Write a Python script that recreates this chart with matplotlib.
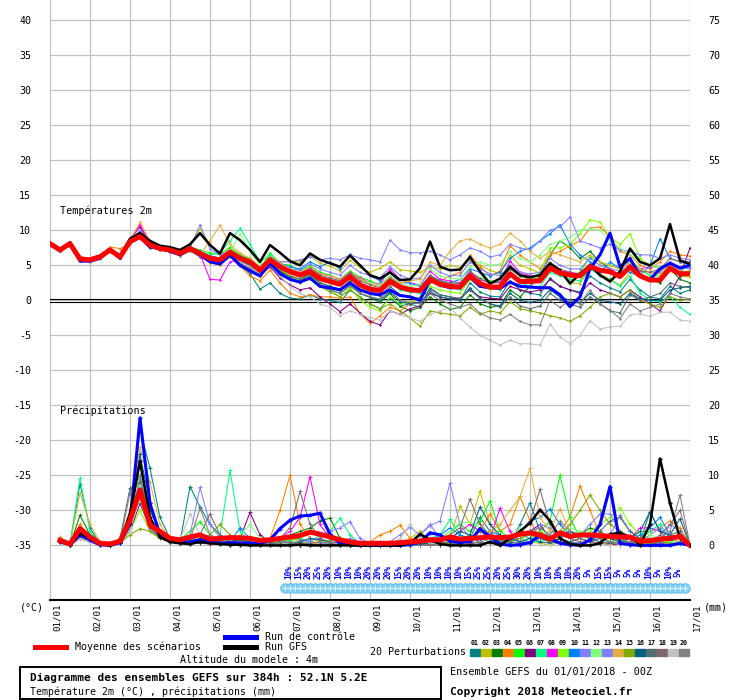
import matplotlib
matplotlib.use('Agg')
import matplotlib.pyplot as plt
import matplotlib.transforms as mtrans
from matplotlib.lines import Line2D
from matplotlib.patches import Rectangle
import numpy as np

plt.rcParams['font.family'] = ['DejaVu Sans Mono', 'DejaVu Sans']

# ---------------- data ----------------
day_labels = ['01/01', '02/01', '03/01', '04/01', '05/01', '06/01', '07/01', '08/01', '09/01',
              '10/01', '11/01', '12/01', '13/01', '14/01', '15/01', '16/01', '17/01']

temp_mean = [8.1, 7.2, 8.1, 5.9, 5.8, 6.2, 7.2, 6.2, 8.4, 9.1, 7.9, 7.4, 7.2,
             6.7, 7.4, 6.7, 6.0, 5.8, 6.9, 6.0, 5.5, 4.3, 5.8, 4.8, 4.1, 3.6,
             4.1, 3.1, 2.7, 2.3, 3.4, 2.2, 1.6, 1.4, 2.7, 1.9, 1.5, 1.4, 3.0,
             2.3, 2.0, 1.9, 3.5, 2.4, 1.9, 1.9, 3.8, 2.7, 2.7, 2.8, 4.6, 3.9,
             3.6, 3.5, 4.8, 4.3, 4.1, 3.4, 4.8, 3.5, 2.9, 2.9, 4.6, 3.8, 3.8]
temp_ctrl = [8.0, 7.1, 8.2, 5.6, 5.6, 6.0, 7.3, 6.0, 8.6, 9.0, 7.6, 7.5, 7.0,
             6.5, 7.3, 6.5, 5.5, 5.2, 6.5, 5.0, 4.2, 3.5, 5.3, 3.8, 3.0, 2.6,
             3.2, 2.0, 1.8, 1.5, 2.5, 1.5, 1.0, 0.8, 1.5, 0.7, 0.5, 0.0, 2.9,
             2.2, 1.8, 1.8, 3.3, 2.0, 1.8, 1.7, 2.6, 2.0, 1.9, 1.8, 1.8, 0.8,
             -0.9, 0.5, 4.5, 6.5, 9.6, 4.8, 6.0, 3.5, 3.0, 4.5, 5.3, 4.6, 5.0]
temp_gfs = [8.2, 7.3, 8.0, 5.8, 5.9, 6.4, 7.0, 6.3, 8.8, 9.6, 8.5, 7.8, 7.6,
            7.2, 8.0, 9.6, 7.9, 6.7, 9.6, 8.6, 7.2, 5.5, 7.9, 6.8, 5.6, 5.0,
            6.7, 5.8, 5.3, 4.8, 6.4, 5.0, 3.6, 3.1, 4.0, 2.9, 3.0, 4.6, 8.4,
            4.8, 4.3, 4.4, 6.2, 4.1, 2.4, 3.1, 4.8, 3.6, 3.3, 3.6, 5.3, 4.3,
            2.4, 3.8, 5.0, 3.6, 2.7, 4.1, 7.4, 5.5, 5.0, 6.0, 10.9, 5.7, 5.2]

t01 = [8.0, 7.0, 8.1, 5.6, 5.5, 6.0, 7.0, 6.0, 8.2, 9.0, 7.5, 7.2, 7.0,
       6.4, 7.2, 6.3, 5.8, 5.3, 6.5, 5.2, 3.8, 1.6, 2.5, 1.0, 0.3, 0.2,
       0.8, 0.2, 0.0, -0.3, 1.5, 0.5, -0.5, -1.2, 0.3, -0.8, -0.5, -1.0, 1.8,
       0.8, 0.5, 0.0, 2.5, 1.2, 0.6, 0.5, 2.8, 1.5, 1.0, 0.8, 3.2, 2.0,
       1.5, 1.2, 3.5, 2.5, 1.8, 1.2, 3.0, 1.5, 0.5, 0.2, 2.0, 1.0, 1.5]
t02 = [8.2, 7.3, 8.3, 6.1, 6.0, 6.5, 7.5, 6.4, 8.9, 9.8, 8.3, 7.6, 7.5,
       7.0, 7.9, 10.2, 8.0, 6.5, 7.5, 6.6, 5.8, 4.6, 6.3, 5.5, 5.6, 5.5,
       6.4, 5.3, 4.9, 4.2, 5.7, 4.7, 4.0, 4.6, 5.5, 4.4, 4.2, 4.0, 4.8,
       4.5, 5.0, 4.7, 5.8, 5.0, 4.3, 3.8, 6.5, 5.0, 4.5, 3.9, 5.5, 4.0,
       2.5, 2.4, 4.5, 3.8, 3.0, 2.2, 4.0, 3.3, 3.0, 2.8, 4.2, 3.5, 3.3]
t03 = [8.1, 7.2, 8.0, 5.8, 5.7, 6.2, 7.2, 6.3, 8.5, 9.5, 8.0, 7.5, 7.3,
       6.8, 7.5, 6.5, 5.9, 5.5, 6.7, 5.6, 5.1, 4.0, 5.5, 4.3, 3.5, 3.0,
       3.8, 2.5, 2.0, 1.5, 2.8, 1.0, 0.4, -0.3, 1.0, -0.8, -1.5, -1.0, 0.5,
       -0.5, -1.3, -1.0, 0.8, -0.5, -1.0, -0.8, 1.5, 0.5, 2.0, 3.5, 6.5, 8.5,
       7.5, 6.0, 7.0, 5.5, 4.5, 3.5, 4.8, 3.5, 3.0, 2.5, 4.5, 3.0, 2.5]
t04 = [8.0, 7.1, 8.2, 6.3, 5.9, 6.5, 7.6, 7.4, 8.0, 9.3, 8.3, 7.6, 7.2,
       6.6, 7.2, 6.5, 5.4, 5.0, 6.2, 4.9, 3.5, 2.8, 4.3, 2.5, 1.0, 0.5,
       0.8, 0.5, 0.5, 0.3, 0.5, -1.9, -3.3, -2.2, -1.0, -1.5, -0.5, 0.5, 2.5,
       2.8, 3.5, 4.0, 6.5, 4.8, 3.5, 4.2, 7.8, 6.5, 5.5, 4.5, 6.5, 7.0,
       7.8, 8.5, 10.3, 10.5, 9.0, 7.0, 6.5, 5.0, 4.5, 5.5, 7.0, 6.5, 6.3]
t05 = [8.1, 7.3, 8.2, 6.0, 5.9, 6.3, 7.4, 6.1, 8.3, 9.8, 8.1, 7.8, 7.4,
       6.9, 7.6, 7.2, 6.8, 6.5, 7.6, 6.4, 6.0, 4.5, 6.8, 5.2, 5.0, 4.2,
       5.0, 4.0, 3.6, 3.0, 4.2, 3.3, 2.8, 2.2, 3.5, 2.0, 1.8, 1.5, 3.4,
       2.7, 2.5, 2.4, 4.0, 3.2, 2.8, 2.6, 4.5, 3.5, 3.0, 3.2, 5.0, 4.0,
       3.5, 4.0, 6.2, 5.5, 5.0, 4.5, 5.8, 4.5, 3.5, 3.5, 5.2, 4.0, 4.2]
t06 = [8.2, 7.4, 8.4, 6.0, 5.6, 6.1, 7.3, 6.0, 8.8, 10.5, 8.0, 7.3, 7.0,
       6.5, 7.1, 6.2, 5.6, 5.4, 6.6, 5.3, 4.5, 3.5, 4.8, 3.2, 2.2, 1.5,
       1.8, 0.5, -0.5, -1.6, -0.5, -1.8, -3.0, -3.5, -1.5, -2.0, -1.2, -0.8, 1.0,
       0.5, 0.2, 0.3, 1.5, 0.5, 0.3, 0.2, 2.0, 1.5, 1.2, 1.5, 3.0, 2.0,
       1.5, 1.0, 2.5, 1.5, 1.0, 0.5, 1.5, 0.5, -0.5, -1.5, 1.0, 3.5, 7.5]
t07 = [8.0, 7.2, 8.0, 5.7, 5.6, 6.4, 7.4, 6.3, 8.6, 9.2, 7.8, 7.6, 7.4,
       6.9, 7.7, 7.0, 6.5, 6.8, 8.5, 10.3, 8.0, 5.5, 6.5, 5.0, 4.2, 3.5,
       4.2, 3.0, 2.5, 2.5, 3.6, 2.5, 1.8, 1.5, 2.5, 1.5, 1.2, 1.0, 2.8,
       2.0, 1.8, 1.6, 3.2, 2.2, 1.8, 1.5, 3.5, 2.5, 2.0, 2.0, 4.0, 3.5,
       3.0, 2.8, 4.5, 3.5, 3.0, 2.0, 3.5, 1.0, 0.0, -0.2, 0.5, -1.0, -2.0]
t08 = [8.1, 7.1, 8.0, 5.8, 5.7, 6.2, 7.0, 6.4, 8.5, 10.8, 8.2, 7.2, 7.1,
       6.6, 7.3, 6.6, 3.0, 2.9, 5.5, 5.8, 5.5, 4.2, 5.9, 5.0, 4.5, 4.0,
       4.5, 3.8, 3.5, 3.0, 3.8, 3.2, 2.5, 2.3, 4.5, 3.0, 2.5, 2.2, 4.2,
       3.0, 2.8, 2.5, 4.0, 3.0, 2.5, 2.6, 5.6, 4.0, 3.5, 3.4, 4.8, 4.2,
       4.0, 3.8, 5.2, 4.5, 4.0, 3.5, 5.0, 4.5, 4.8, 4.8, 5.0, 4.8, 4.8]
t09 = [8.1, 7.2, 8.1, 5.9, 5.8, 6.3, 7.3, 6.2, 8.4, 9.4, 8.0, 7.5, 7.3,
       6.8, 7.5, 6.8, 6.0, 5.8, 6.8, 5.8, 5.3, 4.0, 5.5, 4.5, 3.5, 2.8,
       3.5, 2.2, 1.5, 0.5, 1.8, 0.0, -1.0, -1.5, 0.5, -0.5, -0.2, 0.5, 2.0,
       1.5, 1.2, 1.0, 3.0, 2.0, 1.6, 2.0, 4.5, 3.5, 3.0, 4.0, 7.5, 7.5,
       8.0, 9.5, 11.5, 11.2, 9.0, 8.0, 9.5, 6.0, 5.0, 4.5, 5.5, 4.5, 5.0]
t10 = [8.2, 7.2, 8.1, 6.0, 5.9, 6.3, 7.4, 6.3, 8.5, 9.6, 8.1, 7.7, 7.5,
       6.9, 7.6, 6.9, 6.3, 6.0, 7.0, 6.3, 5.7, 4.6, 6.2, 5.3, 4.8, 4.5,
       5.5, 4.8, 5.5, 4.5, 6.6, 5.0, 3.5, 2.8, 4.0, 2.5, 2.5, 2.0, 3.5,
       2.8, 2.5, 3.0, 4.5, 4.0, 3.5, 4.0, 6.0, 7.0, 7.5, 8.5, 9.5, 10.8,
       8.0, 6.5, 5.5, 4.0, 5.5, 4.5, 4.0, 3.5, 5.0, 8.8, 6.0, 5.5, 5.0]
t11 = [8.3, 7.3, 8.2, 6.0, 5.6, 6.0, 7.3, 6.2, 8.6, 9.3, 7.8, 7.4, 7.2,
       6.6, 7.5, 10.8, 7.3, 6.5, 7.0, 6.0, 5.8, 4.8, 6.0, 5.5, 5.5, 5.8,
       6.2, 5.8, 6.0, 5.8, 6.5, 6.0, 5.8, 5.5, 8.6, 7.2, 6.8, 6.8, 7.0,
       6.5, 5.8, 6.5, 7.5, 7.0, 6.2, 6.5, 8.0, 7.5, 7.2, 8.5, 10.0, 10.5,
       11.9, 8.5, 8.0, 7.5, 8.0, 7.2, 7.0, 6.5, 6.5, 6.0, 6.5, 6.0, 5.8]
t12 = [8.0, 7.3, 8.1, 5.9, 5.7, 6.1, 7.1, 6.4, 8.3, 9.0, 7.9, 7.3, 7.1,
       6.6, 7.2, 6.7, 6.1, 5.9, 6.9, 9.5, 7.0, 5.0, 6.0, 4.9, 4.0, 3.8,
       4.5, 3.5, 3.0, 2.8, 4.0, 3.0, 2.5, 2.2, 3.5, 2.5, 2.0, 2.3, 4.5,
       3.5, 3.2, 3.0, 4.8, 5.5, 5.0, 5.2, 7.0, 6.0, 5.5, 6.5, 8.0, 8.5,
       9.0, 10.0, 10.2, 10.0, 8.5, 7.5, 6.5, 5.5, 5.0, 4.8, 5.0, 4.5, 4.5]
t13 = [8.1, 7.2, 8.2, 6.1, 5.8, 6.2, 7.2, 6.2, 8.5, 10.0, 8.1, 7.6, 7.4,
       7.0, 7.6, 7.0, 6.4, 6.0, 7.0, 6.2, 5.6, 4.5, 6.0, 5.0, 4.5, 4.3,
       5.2, 4.5, 4.0, 3.6, 5.0, 4.0, 3.5, 3.2, 4.8, 3.6, 3.0, 3.2, 5.0,
       4.0, 3.5, 3.6, 5.5, 4.5, 3.8, 3.5, 5.0, 4.0, 3.8, 4.0, 6.0, 5.0,
       4.5, 4.5, 6.0, 5.0, 4.5, 4.2, 5.5, 4.5, 4.0, 4.0, 5.5, 4.8, 4.5]
t14 = [8.1, 7.2, 8.1, 6.0, 5.8, 6.4, 7.3, 6.6, 8.6, 11.2, 8.5, 7.7, 7.3,
       6.8, 7.4, 6.5, 8.5, 10.7, 8.0, 6.8, 6.0, 4.8, 6.2, 5.3, 4.5, 4.0,
       4.8, 3.8, 3.5, 3.0, 4.0, 3.0, 2.3, 2.0, 3.3, 2.5, 2.8, 3.0, 5.5,
       5.0, 7.0, 8.5, 8.8, 8.0, 7.5, 8.0, 9.6, 8.5, 7.0, 6.0, 7.0, 6.5,
       6.0, 5.5, 6.5, 5.5, 5.0, 4.5, 5.5, 4.5, 4.0, 3.8, 5.0, 4.0, 4.2]
t15 = [8.0, 7.1, 8.0, 5.7, 5.5, 6.0, 7.0, 6.0, 8.2, 9.0, 7.6, 7.2, 7.0,
       6.4, 7.0, 6.3, 5.8, 5.6, 6.5, 5.8, 5.2, 4.0, 5.0, 4.0, 3.5, 3.0,
       3.2, 2.0, 1.2, 0.5, 1.5, 0.5, -0.5, -1.2, -0.5, -1.5, -2.5, -3.7, -1.5,
       -1.8, -2.0, -2.2, -1.0, -2.0, -1.5, -1.8, -0.2, -1.2, -1.5, -1.8, -2.2, -2.5,
       -3.0, -2.2, -1.0, 0.5, 1.0, 0.5, 1.5, 0.0, -0.5, -1.0, 0.5, 0.0, 0.2]
t16 = [8.0, 7.1, 8.0, 5.8, 5.7, 6.1, 7.1, 6.1, 8.3, 9.2, 7.8, 7.3, 7.0,
       6.5, 7.2, 6.4, 5.8, 5.6, 6.5, 5.6, 5.0, 3.8, 5.2, 4.0, 3.2, 2.6,
       3.0, 2.0, 1.5, 1.0, 2.2, 1.0, 0.5, 0.0, 1.2, -0.2, -0.5, -0.3, 1.2,
       0.5, 0.2, 0.0, 1.8, 0.2, -0.5, -0.8, 1.0, 0.0, -0.3, 0.0, 1.5, 0.5,
       0.0, -0.3, 1.0, 0.0, -0.2, -0.5, 1.0, 0.2, 0.0, 0.0, 1.5, 1.8, 2.0]
t17 = [8.1, 7.2, 8.1, 5.8, 5.7, 6.2, 7.1, 6.2, 8.4, 9.2, 7.8, 7.4, 7.1,
       6.6, 7.3, 6.5, 5.9, 5.6, 6.6, 5.7, 5.0, 3.9, 5.3, 4.2, 3.4, 3.0,
       3.6, 2.5, 2.0, 1.6, 2.6, 1.5, 0.9, 0.6, 2.0, 0.8, 0.5, 0.3, 1.5,
       0.8, 0.5, 0.3, 1.5, 0.3, -0.5, -1.0, 0.5, -0.8, -1.2, -0.8, 1.0, 0.0,
       -0.5, -1.0, 0.5, -0.5, -1.5, -1.8, 0.8, 0.0, 0.5, 1.0, 2.5, 2.0, 1.8]
t18 = [8.2, 7.3, 8.2, 6.0, 5.9, 6.3, 7.3, 6.3, 8.6, 9.8, 8.2, 7.6, 7.4,
       6.9, 7.6, 6.9, 6.3, 6.0, 7.1, 6.2, 5.6, 4.5, 6.0, 4.9, 4.3, 3.8,
       4.6, 3.6, 3.2, 2.8, 4.0, 2.8, 2.2, 1.8, 3.2, 2.2, 1.8, 1.6, 3.6,
       2.8, 2.5, 2.4, 4.2, 3.0, 2.5, 2.5, 4.5, 3.5, 3.0, 3.0, 5.0, 4.5,
       4.0, 3.5, 5.0, 4.5, 4.0, 3.5, 5.0, 4.2, 4.0, 4.5, 6.0, 5.5, 5.5]
t19 = [8.0, 7.0, 8.2, 5.8, 5.4, 5.9, 7.0, 6.0, 8.3, 9.5, 7.8, 7.2, 6.9,
       6.4, 7.1, 6.3, 5.7, 5.5, 6.4, 5.5, 4.8, 3.8, 5.0, 3.5, 2.0, 1.0,
       0.5, -0.5, -1.0, -2.2, -1.5, -2.0, -2.5, -2.8, -1.5, -2.0, -2.5, -3.0, -2.0,
       -1.5, -1.0, -2.5, -3.8, -5.0, -5.7, -6.4, -5.7, -6.2, -6.2, -6.4, -3.4, -5.2,
       -6.2, -5.0, -2.9, -4.1, -3.8, -3.7, -2.1, -1.9, -2.3, -1.7, -1.7, -2.8, -3.0]
t20 = [8.1, 7.1, 8.0, 5.8, 5.6, 6.0, 7.0, 6.1, 8.4, 9.2, 7.6, 7.2, 6.9,
       6.5, 7.4, 6.4, 5.5, 5.2, 6.2, 5.2, 4.6, 3.6, 5.0, 3.8, 3.0, 2.5,
       3.2, 2.0, 1.5, 1.0, 2.0, 1.0, 0.5, 0.2, 1.5, 0.0, -0.3, -0.5, 1.0,
       0.0, -0.5, -1.0, -0.5, -1.8, -2.5, -2.8, -2.0, -3.0, -3.5, -3.5, 0.0, -1.0,
       0.0, -0.5, 1.5, -0.5, -1.4, -2.6, -0.5, -1.5, -1.0, -0.5, 1.0, 0.5, 0.2]

prec_mean = [0.7, 0.2, 2.4, 1.2, 0.3, 0.2, 0.6, 3.6, 7.9, 2.9, 2.0, 1.0, 0.8, 1.2, 1.5, 0.9,
             1.0, 1.1, 1.1, 1.0, 0.7, 0.8, 1.0, 1.2, 1.4, 1.9, 1.6, 1.2, 0.8, 0.5, 0.3, 0.3,
             0.3, 0.3, 0.4, 0.5, 0.6, 0.8, 0.8, 1.2, 0.9, 1.0, 1.1, 1.2, 1.1, 1.2, 1.6, 1.8,
             1.5, 0.9, 1.8, 1.3, 1.5, 1.5, 1.4, 1.3, 1.2, 1.2, 0.6, 0.7, 0.9, 1.0, 1.3, 0.0]
prec_ctrl = [0.5, 0.1, 1.5, 0.8, 0.1, 0.0, 0.4, 3.0, 18.2, 6.0, 1.5, 0.6, 0.4, 0.5, 0.8, 0.6,
             0.3, 0.4, 0.3, 0.3, 0.2, 0.8, 2.4, 3.6, 4.2, 4.3, 4.6, 1.6, 0.3, 0.1, 0.0, 0.0,
             0.0, 0.0, 0.0, 0.1, 0.5, 1.8, 1.5, 0.6, 0.4, 0.6, 2.4, 1.2, 0.2, 0.0, 0.1, 0.4,
             1.5, 1.0, 0.3, 0.1, 0.0, 0.8, 3.0, 8.4, 0.3, 0.1, 0.0, 0.0, 0.0, 0.0, 0.3, 0.0]
prec_gfs = [0.6, 0.1, 1.8, 1.0, 0.2, 0.0, 0.5, 4.5, 12.0, 4.0, 1.2, 0.5, 0.3, 0.2, 0.5, 0.3,
            0.2, 0.1, 0.1, 0.0, 0.0, 0.0, 0.0, 0.0, 0.1, 0.0, 0.0, 0.0, 0.0, 0.0, 0.0, 0.0,
            0.0, 0.0, 0.0, 0.3, 1.6, 0.8, 0.2, 0.0, 0.0, 0.0, 0.0, 0.5, 0.0, 1.0, 2.0, 3.2,
            5.1, 3.5, 1.0, 0.2, 0.0, 0.0, 0.3, 1.6, 1.8, 1.2, 0.1, 3.0, 12.4, 6.0, 1.0, 0.0]

r01 = [0.8, 0.1, 8.8, 2.5, 0.2, 0.0, 0.5, 5.0, 16.6, 11.0, 4.0, 1.0, 0.5, 8.4, 5.5, 3.0,
       1.5, 0.5, 0.8, 0.3, 0.2, 0.5, 0.3, 0.2, 0.0, 0.5, 0.3, 0.2, 0.0, 0.0, 0.0, 0.0,
       0.0, 0.0, 0.2, 0.0, 0.0, 0.5, 0.3, 0.2, 0.0, 1.0, 4.0, 2.0, 0.5, 0.3, 3.0, 6.1,
       2.0, 0.5, 1.0, 0.5, 0.3, 0.5, 1.5, 1.0, 0.5, 0.3, 0.5, 4.8, 2.0, 0.5, 1.5, 0.0]
r02 = [0.6, 0.0, 2.0, 1.0, 0.2, 0.0, 0.8, 4.0, 9.0, 3.5, 1.5, 0.5, 0.3, 0.5, 0.8, 0.5,
       0.8, 0.5, 0.3, 0.2, 0.0, 0.0, 0.5, 1.0, 0.8, 0.5, 0.3, 0.2, 0.0, 0.0, 0.0, 0.0,
       0.0, 0.0, 0.0, 1.0, 2.0, 0.5, 0.2, 1.0, 5.6, 3.0, 7.7, 3.0, 1.0, 0.5, 0.3, 0.5,
       0.3, 0.0, 0.5, 0.3, 0.0, 0.5, 0.3, 0.2, 0.0, 0.5, 0.3, 0.2, 0.5, 1.0, 0.5, 0.0]
r03 = [0.7, 0.0, 4.3, 1.5, 0.3, 0.0, 0.5, 3.0, 12.0, 5.0, 2.0, 1.0, 0.5, 0.8, 0.5, 0.3,
       0.5, 0.3, 0.8, 0.5, 0.3, 0.5, 0.8, 1.5, 2.0, 2.5, 3.5, 3.9, 1.0, 0.3, 0.0, 0.0,
       0.0, 0.0, 0.0, 0.0, 0.3, 0.5, 0.2, 0.0, 0.5, 1.0, 0.5, 0.3, 0.5, 0.5, 1.5, 2.0,
       1.0, 0.5, 1.5, 2.0, 1.5, 2.5, 2.0, 1.0, 0.5, 0.5, 0.3, 0.5, 1.0, 0.5, 0.3, 0.0]
r04 = [1.2, 0.1, 3.0, 1.0, 0.2, 0.0, 0.6, 3.5, 8.0, 2.5, 1.5, 0.8, 0.5, 0.3, 0.8, 0.5,
       0.3, 0.2, 0.5, 0.3, 0.2, 1.0, 5.0, 10.0, 3.0, 1.0, 0.5, 0.3, 0.0, 0.0, 0.2, 0.5,
       1.5, 2.0, 2.9, 1.0, 0.3, 0.2, 0.0, 0.5, 0.3, 0.5, 2.0, 4.5, 2.0, 3.0, 7.0, 3.5,
       1.0, 0.5, 2.0, 4.0, 8.5, 5.0, 1.5, 0.5, 0.3, 0.5, 1.0, 2.0, 2.5, 3.5, 2.5, 0.0]
r05 = [0.5, 0.0, 1.5, 0.8, 0.2, 0.0, 0.5, 2.5, 10.0, 3.0, 1.5, 0.5, 0.8, 2.0, 3.4, 1.5,
       0.8, 0.5, 0.3, 0.2, 0.5, 0.3, 0.5, 0.8, 1.0, 0.5, 0.3, 0.8, 0.5, 0.2, 0.0, 0.0,
       0.0, 0.0, 0.0, 0.0, 0.0, 0.5, 1.0, 2.0, 3.0, 2.0, 3.5, 6.3, 2.0, 1.0, 1.5, 1.0,
       2.0, 3.5, 10.0, 4.0, 1.0, 0.5, 0.3, 0.2, 0.5, 1.0, 0.5, 0.3, 0.5, 0.3, 0.2, 0.0]
r06 = [0.8, 0.1, 1.0, 0.5, 0.0, 0.0, 0.3, 2.0, 6.0, 2.5, 1.0, 0.5, 0.3, 0.5, 0.3, 0.5,
       0.3, 0.5, 1.0, 4.7, 1.5, 0.5, 0.3, 0.2, 0.5, 0.3, 0.2, 0.0, 0.0, 0.0, 0.0, 0.0,
       0.0, 0.0, 0.0, 0.0, 0.2, 0.0, 0.0, 0.3, 0.5, 0.2, 0.5, 0.3, 0.5, 1.0, 1.5, 2.0,
       3.0, 1.0, 0.5, 0.3, 0.2, 0.5, 0.3, 0.2, 0.0, 0.3, 0.5, 0.3, 0.2, 0.5, 0.3, 0.0]
r07 = [0.9, 0.2, 9.6, 2.0, 0.3, 0.0, 0.5, 3.0, 9.0, 3.0, 1.5, 0.5, 0.5, 1.0, 0.5, 0.3,
       1.5, 10.7, 2.0, 0.5, 0.3, 0.2, 0.5, 0.3, 0.2, 0.5, 1.5, 2.0, 3.9, 1.5, 0.3, 0.0,
       0.0, 0.0, 0.0, 0.0, 0.5, 1.0, 1.5, 3.7, 1.5, 0.5, 0.3, 0.5, 0.3, 0.5, 1.0, 0.5,
       0.5, 1.0, 2.0, 1.5, 1.0, 0.5, 1.0, 0.5, 0.3, 0.5, 1.5, 2.0, 3.0, 1.0, 0.5, 0.0]
r08 = [0.6, 0.0, 1.0, 0.5, 0.0, 0.0, 0.4, 2.5, 7.0, 2.0, 1.0, 0.5, 0.3, 0.5, 0.3, 0.2,
       0.3, 0.5, 0.3, 0.2, 0.3, 0.5, 1.0, 2.0, 4.0, 9.8, 3.0, 1.0, 0.3, 0.0, 0.0, 0.0,
       0.0, 0.0, 0.0, 0.0, 0.0, 0.2, 0.5, 1.0, 2.0, 3.0, 2.0, 1.0, 5.3, 2.0, 0.5, 0.3,
       1.5, 0.5, 0.3, 0.5, 1.0, 0.5, 0.3, 0.2, 0.5, 1.0, 2.5, 2.5, 2.0, 1.5, 1.0, 0.0]
r09 = [0.5, 0.0, 1.2, 0.8, 0.2, 0.0, 0.3, 2.0, 5.0, 2.0, 1.0, 0.5, 0.3, 0.5, 1.0, 0.5,
       0.5, 0.3, 0.5, 0.3, 0.5, 0.3, 0.5, 1.0, 0.8, 0.5, 0.3, 0.2, 0.0, 0.0, 0.0, 0.0,
       0.0, 0.0, 0.0, 0.0, 0.0, 0.0, 0.3, 0.5, 1.0, 1.5, 1.0, 0.5, 0.5, 1.0, 0.5, 1.0,
       2.0, 1.5, 1.0, 0.5, 1.0, 2.0, 3.0, 4.0, 5.4, 3.0, 1.5, 1.0, 0.5, 0.5, 0.3, 0.0]
r10 = [0.6, 0.0, 1.5, 0.8, 0.2, 0.0, 0.4, 3.0, 8.0, 3.0, 1.5, 0.8, 0.5, 1.0, 0.8, 0.5,
       0.3, 0.5, 2.5, 1.0, 0.5, 0.3, 0.5, 0.5, 0.3, 0.5, 0.3, 0.2, 0.0, 0.0, 0.0, 0.0,
       0.0, 0.0, 0.0, 0.0, 0.0, 0.5, 1.5, 2.5, 1.5, 1.0, 0.5, 2.0, 1.5, 1.0, 2.0, 3.5,
       4.0, 5.2, 3.0, 1.5, 1.0, 0.5, 0.3, 0.5, 0.3, 0.5, 1.5, 2.5, 4.0, 1.5, 1.0, 0.0]
r11 = [0.7, 0.1, 2.0, 1.0, 0.3, 0.0, 0.6, 4.0, 9.5, 3.5, 1.5, 0.8, 0.5, 1.5, 8.3, 3.0,
       1.0, 0.5, 0.3, 0.2, 0.5, 0.3, 0.5, 0.3, 0.5, 0.8, 1.0, 2.0, 2.5, 3.4, 1.0, 0.3,
       0.2, 0.5, 1.5, 2.6, 1.5, 2.8, 3.5, 8.9, 3.0, 1.0, 0.5, 0.3, 0.5, 1.0, 0.5, 0.5,
       1.0, 2.0, 1.5, 1.0, 1.5, 3.0, 4.5, 4.5, 2.0, 1.0, 0.5, 1.5, 2.5, 1.0, 0.5, 0.0]
r12 = [0.5, 0.0, 1.5, 0.6, 0.2, 0.0, 0.5, 2.5, 6.5, 2.5, 1.2, 0.5, 0.3, 0.5, 0.8, 0.5,
       0.5, 0.8, 1.5, 3.0, 1.0, 0.5, 0.3, 0.5, 0.8, 0.5, 0.3, 0.3, 0.5, 0.2, 0.0, 0.0,
       0.0, 0.0, 0.0, 0.0, 0.3, 0.5, 1.0, 2.0, 3.3, 3.3, 2.5, 1.0, 0.5, 1.0, 2.5, 1.5,
       1.5, 2.0, 2.0, 2.5, 2.0, 1.5, 1.0, 0.5, 0.5, 1.0, 2.0, 1.5, 1.0, 0.5, 0.5, 0.0]
r13 = [0.6, 0.0, 1.8, 0.8, 0.2, 0.0, 0.4, 3.0, 7.5, 2.5, 1.0, 0.5, 0.3, 0.8, 0.5, 0.3,
       0.5, 0.3, 0.5, 0.3, 0.2, 0.5, 1.0, 1.5, 0.8, 0.5, 0.3, 0.2, 0.5, 1.0, 0.5, 0.2,
       0.5, 0.2, 0.0, 0.5, 1.5, 3.0, 1.0, 0.5, 0.3, 0.5, 1.0, 0.5, 0.3, 0.5, 1.5, 1.0,
       3.0, 2.5, 1.0, 0.5, 0.3, 0.5, 1.0, 1.5, 4.3, 2.0, 1.0, 0.5, 0.3, 3.0, 2.0, 0.0]
r14 = [0.8, 0.1, 7.5, 3.0, 0.5, 0.0, 0.8, 5.0, 14.0, 9.0, 3.0, 1.0, 0.5, 0.8, 0.5, 0.3,
       0.5, 0.3, 0.5, 0.3, 0.2, 0.3, 0.5, 1.0, 0.5, 0.3, 0.2, 0.0, 0.0, 0.0, 0.0, 0.0,
       0.0, 0.0, 0.0, 0.0, 0.0, 0.3, 0.5, 1.0, 0.5, 0.5, 1.0, 2.0, 3.0, 5.0, 7.0, 11.0,
       4.0, 2.0, 5.2, 2.0, 1.0, 0.5, 0.3, 0.2, 0.5, 1.0, 0.5, 0.3, 0.5, 1.0, 0.5, 0.0]
r15 = [0.5, 0.0, 1.0, 0.5, 0.2, 0.0, 0.3, 1.5, 2.4, 2.0, 1.0, 0.5, 0.3, 0.5, 1.0, 1.5,
       3.0, 1.5, 0.5, 0.3, 0.2, 0.3, 0.5, 0.3, 0.2, 0.0, 0.0, 0.0, 0.0, 0.0, 0.0, 0.0,
       0.0, 0.0, 0.0, 0.0, 0.0, 0.0, 0.0, 0.3, 0.5, 1.0, 2.0, 1.5, 0.8, 0.5, 1.0, 1.5,
       1.0, 0.5, 1.5, 3.0, 5.0, 7.2, 5.0, 3.0, 2.0, 1.0, 0.5, 0.3, 0.5, 0.3, 0.2, 0.0]
r16 = [0.7, 0.1, 2.0, 1.0, 0.3, 0.0, 0.5, 4.0, 13.0, 6.0, 2.0, 1.0, 0.5, 0.8, 0.5, 0.3,
       0.3, 0.5, 0.8, 0.5, 0.3, 0.2, 0.5, 0.3, 0.5, 1.0, 0.8, 0.5, 0.3, 0.0, 0.0, 0.0,
       0.0, 0.0, 0.0, 0.0, 0.2, 0.3, 0.5, 1.0, 2.0, 1.5, 5.5, 3.0, 1.5, 1.0, 0.5, 1.0,
       0.5, 0.3, 1.0, 2.0, 1.5, 1.0, 0.5, 0.3, 0.5, 1.0, 2.0, 4.8, 2.0, 1.5, 3.8, 0.0]
r17 = [0.8, 0.1, 1.5, 0.8, 0.2, 0.0, 1.0, 8.2, 9.0, 3.0, 1.5, 0.8, 0.5, 0.5, 0.3, 0.3,
       0.5, 0.3, 0.5, 0.3, 0.2, 0.5, 0.3, 0.5, 0.3, 0.2, 0.0, 0.0, 0.0, 0.0, 0.0, 0.0,
       0.0, 0.0, 0.0, 0.0, 0.0, 0.0, 0.3, 0.5, 0.3, 0.5, 0.3, 0.5, 1.0, 0.5, 0.3, 0.5,
       1.0, 0.5, 0.3, 0.5, 1.0, 0.5, 2.0, 3.5, 4.0, 2.0, 1.0, 0.5, 0.5, 1.5, 2.0, 0.0]
r18 = [0.6, 0.0, 1.2, 0.6, 0.2, 0.0, 0.5, 3.0, 8.0, 2.5, 1.2, 0.5, 0.3, 1.0, 1.5, 4.5,
       1.5, 0.5, 0.3, 0.2, 0.3, 0.5, 1.0, 2.5, 7.7, 3.0, 1.0, 0.5, 0.3, 0.0, 0.0, 0.0,
       0.0, 0.0, 0.0, 0.0, 0.0, 0.2, 0.5, 1.5, 2.5, 6.6, 3.0, 1.5, 0.5, 1.0, 2.0, 3.5,
       8.0, 3.0, 1.5, 1.0, 0.5, 0.5, 1.0, 0.5, 0.3, 0.5, 1.0, 0.5, 1.5, 3.0, 5.0, 0.0]
r19 = [0.5, 0.0, 1.0, 0.5, 0.2, 0.0, 0.3, 2.0, 8.5, 4.0, 1.5, 0.5, 0.8, 4.5, 1.5, 0.5,
       0.3, 0.5, 0.3, 0.2, 0.0, 0.0, 0.2, 0.3, 0.2, 0.0, 0.0, 0.0, 0.0, 0.0, 0.0, 0.0,
       0.0, 0.0, 1.0, 3.0, 1.0, 0.3, 0.2, 0.0, 0.0, 0.0, 0.0, 0.0, 0.0, 0.0, 0.0, 0.0,
       0.0, 0.0, 0.0, 0.0, 0.0, 0.0, 0.0, 0.0, 0.0, 0.0, 0.0, 0.0, 0.0, 0.0, 0.0, 0.0]
r20 = [0.7, 0.1, 1.5, 0.8, 0.3, 0.0, 0.5, 7.5, 10.0, 3.5, 1.5, 0.8, 0.5, 0.8, 5.3, 1.5,
       0.5, 0.3, 0.5, 0.3, 0.2, 0.3, 0.5, 0.3, 0.2, 0.3, 0.5, 0.3, 0.0, 0.0, 0.0, 0.0,
       0.0, 0.0, 0.0, 0.0, 0.0, 0.0, 0.0, 0.2, 0.5, 0.3, 0.5, 0.3, 0.5, 1.0, 1.5, 2.0,
       2.5, 1.5, 3.5, 2.0, 1.0, 0.5, 0.3, 0.5, 1.0, 0.5, 0.3, 0.5, 1.0, 2.0, 7.2, 0.0]

snow_pct = ['10%', '15%', '20%', '25%', '20%', '10%', '10%', '10%', '20%', '20%',
            '20%', '15%', '20%', '20%', '10%', '10%', '10%', '10%', '15%', '25%',
            '25%', '20%', '25%', '30%', '20%', '10%', '10%', '10%', '10%', '20%',
            '5%', '15%', '15%', '5%', '5%', '5%', '10%', '5%', '10%', '5%']

pert_labels = ['01', '02', '03', '04', '05', '06', '07', '08', '09', '10',
               '11', '12', '13', '14', '15', '16', '17', '18', '19', '20']

# ---------------- styles ----------------
PERT_COLORS = ['#008080', '#c0c000', '#008000', '#ff8000', '#00ff00', '#800080', '#00ff80',
               '#ff00ff', '#80ff00', '#0080ff', '#8080ff', '#80ff80', '#8080ff', '#e0b040',
               '#80a800', '#006080', '#507070', '#806870', '#c0c0c0', '#808080']
temp_perts = [t01, t02, t03, t04, t05, t06, t07, t08, t09, t10,
              t11, t12, t13, t14, t15, t16, t17, t18, t19, t20]
prec_perts = [r01, r02, r03, r04, r05, r06, r07, r08, r09, r10,
              r11, r12, r13, r14, r15, r16, r17, r18, r19, r20]

W, H = 740, 700
fig = plt.figure(figsize=(W / 100, H / 100), dpi=100)


def fx(x):
    return x / W


def fy(y):
    return 1 - y / H


hours_t = np.arange(len(temp_mean)) * 6
hours_p = (np.arange(len(prec_mean)) + 1) * 6

Y0, Y1 = -42.8, 42.9
ax = fig.add_axes([fx(50), fy(600), 640 / W, 600 / H])
ax.set_xlim(0, 384)
ax.set_ylim(Y0, Y1)
ax.set_xticks(np.arange(0, 385, 24))
ax.set_xticklabels(day_labels, rotation=90, fontsize=6.6, va='top', ha='center')
ax.set_yticks(np.arange(-35, 41, 5))
ax.set_yticklabels([str(v) for v in range(-35, 41, 5)], fontsize=7.2)
ax.tick_params(axis='y', length=0, pad=13.5)
ax.tick_params(axis='x', length=0, pad=2.2)
off = mtrans.ScaledTranslation(7 / 100, 0, fig.dpi_scale_trans)
for lab in ax.get_xticklabels():
    lab.set_transform(lab.get_transform() + off)
ax.grid(True, color='#c0c0c0', lw=0.9)
ax.set_axisbelow(True)
for s in ['top', 'left', 'right']:
    ax.spines[s].set_visible(False)
ax.spines['bottom'].set_linewidth(1.5)
ax.spines['bottom'].set_color('black')

ax.axhline(0.16, color='black', lw=0.8, zorder=2)
ax.axhline(-0.18, color='black', lw=0.8, zorder=2)

for vals, c in zip(temp_perts, PERT_COLORS):
    ax.plot(hours_t, vals, color=c, lw=0.75, marker='o', ms=1.8, mew=0, zorder=3)
ax.plot(hours_t, temp_ctrl, color='#0000ff', lw=2.2, zorder=4)
ax.plot(hours_t, temp_gfs, color='black', lw=1.8, zorder=4)
ax.plot(hours_t, temp_mean, color='#ff0000', lw=3.6, zorder=5)

ax.text(6, 12.8, 'Températures 2m', fontsize=7.3, va='center', ha='left')
ax.text(6, -15.8, 'Précipitations', fontsize=7.3, va='center', ha='left')

# snow band
snow_h = np.arange(141, 382, 3)
ax.scatter(snow_h, np.full(len(snow_h), -41.1), s=50, color='#80d0f6', edgecolors='#50b0e8',
           linewidths=0.4, clip_on=False, zorder=6)
ax.scatter(snow_h, np.full(len(snow_h), -41.1), s=14, marker='+', color='#d6f2ff',
           linewidths=0.8, clip_on=False, zorder=7)
for k, lab in enumerate(snow_pct):
    ax.text(143 + 6 * k, -38.8, lab, rotation=90, fontsize=5.6, color='#0000ff',
            fontweight='bold', ha='center', va='center', zorder=8)

# precipitation axis
ax2 = ax.twinx()
ax2.set_ylim(Y0 + 35, Y1 + 35)
ax2.set_yticks(np.arange(0, 76, 5))
ax2.set_yticklabels([str(v) for v in range(0, 76, 5)], fontsize=7.2)
ax2.tick_params(axis='y', length=0, pad=13)
for s in ['top', 'left', 'right', 'bottom']:
    ax2.spines[s].set_visible(False)
for vals, c in zip(prec_perts, PERT_COLORS):
    ax2.plot(hours_p, vals, color=c, lw=0.75, marker='+', ms=3, mew=0.7, zorder=3)
ax2.plot(hours_p, prec_ctrl, color='#0000ff', lw=2.2, marker='+', ms=3, zorder=4)
ax2.plot(hours_p, prec_gfs, color='black', lw=1.8, marker='+', ms=3, zorder=4)
ax2.plot(hours_p, prec_mean, color='#ff0000', lw=3.6, zorder=5)

fig.text(fx(32), fy(607), '(°C)', fontsize=7.2, ha='center', va='center')
fig.text(fx(716), fy(607), '(mm)', fontsize=7.2, ha='center', va='center')

# legend
fig.add_artist(Line2D([fx(35), fx(66)], [fy(647), fy(647)], color='#ff0000', lw=3.6,
                      transform=fig.transFigure))
fig.text(fx(75), fy(647), 'Moyenne des scénarios', fontsize=7.2, va='center')
fig.add_artist(Line2D([fx(225), fx(256)], [fy(637), fy(637)], color='#0000ff', lw=3.6,
                      transform=fig.transFigure))
fig.text(fx(265), fy(637), 'Run de contrôle', fontsize=7.2, va='center')
fig.add_artist(Line2D([fx(225), fx(256)], [fy(647), fy(647)], color='black', lw=3.6,
                      transform=fig.transFigure))
fig.text(fx(265), fy(647), 'Run GFS', fontsize=7.2, va='center')
fig.text(fx(249), fy(660), 'Altitude du modele : 4m', fontsize=7.2, va='center', ha='center')

fig.text(fx(466), fy(652), '20 Perturbations', fontsize=7.2, va='center', ha='right')
for k, (lab, c) in enumerate(zip(pert_labels, PERT_COLORS)):
    fig.add_artist(Rectangle((fx(470 + 11 * k), fy(656)), 10 / W, 7 / H, color=c,
                             transform=fig.transFigure))
    fig.text(fx(475 + 11 * k), fy(643), lab, fontsize=4.8, ha='center', va='center',
             fontweight='bold')

fig.add_artist(Rectangle((fx(20), fy(699)), 421 / W, 32 / H, fill=False, ec='black', lw=1.4,
                         transform=fig.transFigure))
fig.text(fx(30), fy(678), 'Diagramme des ensembles GEFS sur 384h : 52.1N 5.2E', fontsize=8.0,
         fontweight='bold', va='center')
fig.text(fx(30), fy(692), 'Température 2m (°C) , précipitations (mm)', fontsize=7.1, va='center')
fig.text(fx(450), fy(672), 'Ensemble GEFS du 01/01/2018 - 00Z', fontsize=7.3, va='center')
fig.text(fx(450), fy(692), 'Copyright 2018 Meteociel.fr', fontsize=8.0, fontweight='bold',
         va='center')

fig.savefig('out.png', dpi=100)
